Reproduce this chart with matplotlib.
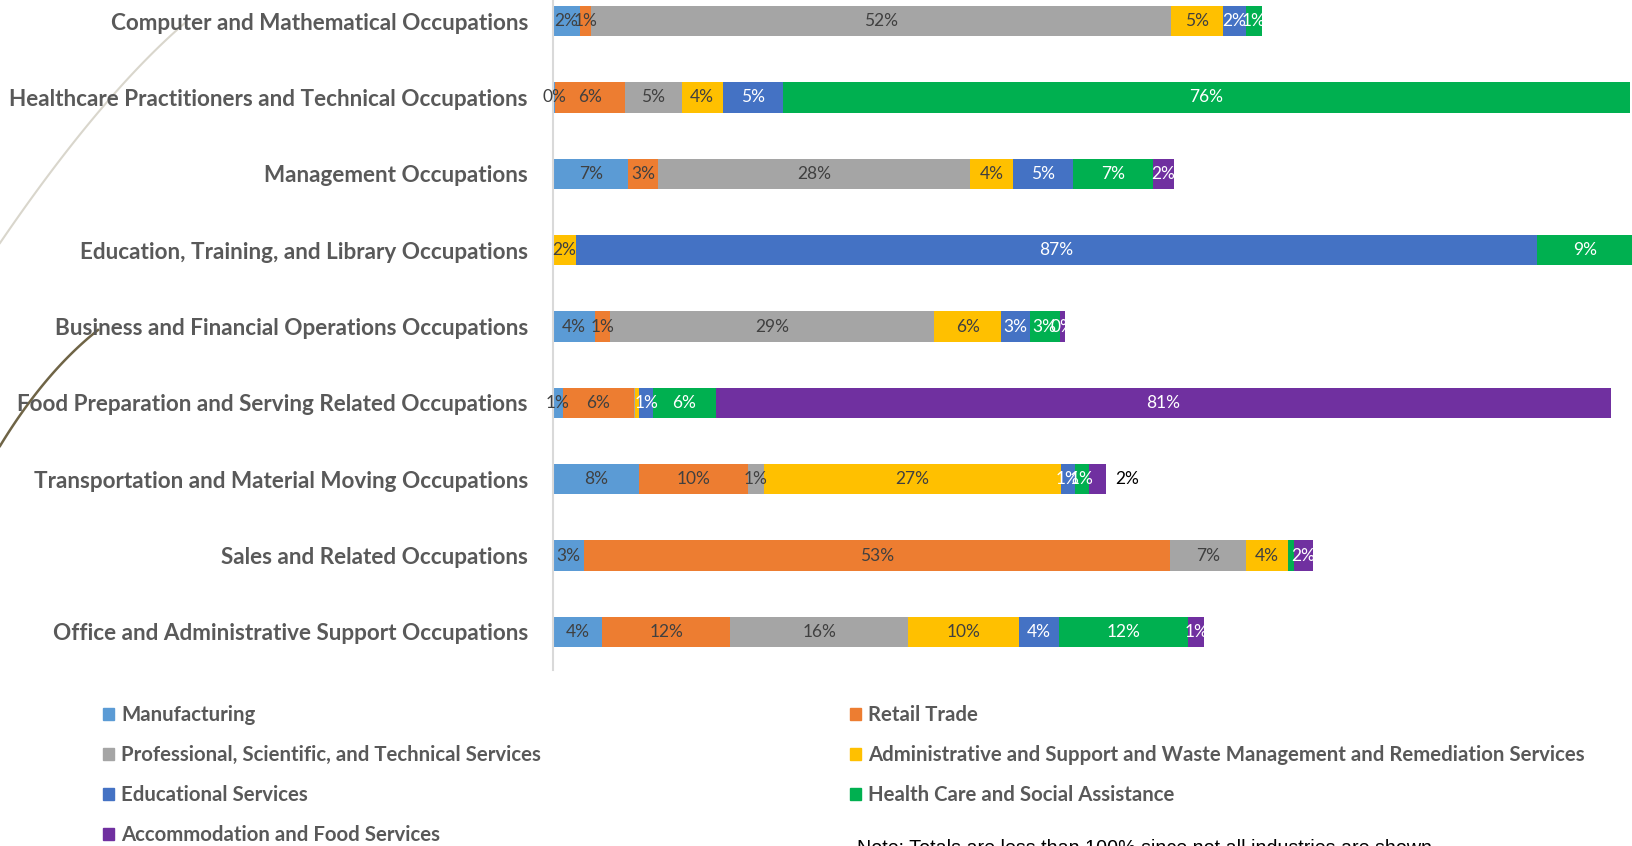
import numpy as np
import matplotlib
matplotlib.use('Agg')
import matplotlib.pyplot as plt
from matplotlib.patches import Patch
from matplotlib.lines import Line2D

# occupations, top to bottom
occupations = ['Computer and Mathematical Occupations',
               'Healthcare Practitioners and Technical Occupations',
               'Management Occupations',
               'Education, Training, and Library Occupations',
               'Business and Financial Operations Occupations',
               'Food Preparation and Serving Related Occupations',
               'Transportation and Material Moving Occupations',
               'Sales and Related Occupations',
               'Office and Administrative Support Occupations']

industries = ['Manufacturing', 'Retail Trade',
              'Professional, Scientific, and Technical Services',
              'Administrative and Support and Waste Management and Remediation Services',
              'Educational Services', 'Health Care and Social Assistance',
              'Accommodation and Food Services']

# share of each occupation employed in each industry (%)
manufacturing = [2.4, 0.2, 6.8, 0.0, 3.8, 0.9, 7.8, 2.8, 4.4]
retail = [1.0, 6.3, 2.7, 0.0, 1.3, 6.4, 9.8, 52.8, 11.6]
professional = [52.3, 5.1, 28.1, 0.0, 29.3, 0.1, 1.4, 6.9, 16.0]
admin_support = [4.7, 3.7, 3.9, 2.1, 6.0, 0.4, 26.8, 3.8, 10.0]
educational = [2.1, 5.4, 5.4, 86.6, 2.6, 1.2, 1.3, 0.0, 3.6]
health_care = [1.4, 76.4, 7.2, 9.0, 2.7, 5.7, 1.2, 0.5, 11.7]
accommodation = [0.0, 0.0, 1.9, 0.0, 0.5, 80.7, 1.6, 1.7, 1.4]

# labels Excel did not draw / drew outside the bar (row, series)
hidden_labels = [(5, 2), (5, 3), (7, 5)]
outside_labels = [(6, 6)]

colors = ['#5B9BD5', '#ED7D31', '#A5A5A5', '#FFC000', '#4472C4', '#00B050', '#7030A0']
label_colors = ['#404040', '#404040', '#404040', '#404040', 'white', 'white', 'white']

series = [manufacturing, retail, professional, admin_support, educational, health_care, accommodation]

W, H = 1633, 846
fig = plt.figure(figsize=(W / 100, H / 100), dpi=100)
ax = fig.add_axes([553 / W, (H - 670) / H, 1 - 553 / W, 687 / H])

xmax = 97.4
lab_size = 12.5
y = np.arange(len(occupations))
left = np.zeros(len(occupations))
for j, vals in enumerate(series):
	vals = np.array(vals)
	ax.barh(y, vals, left=left, height=0.4, color=colors[j], label=industries[j])
	for i, v in enumerate(vals):
		if v <= 0 or (i, j) in hidden_labels:
			continue
		txt = '%d%%' % round(v)
		if (i, j) in outside_labels:
			ax.text(left[i] + v + 0.8, i, txt, ha='left', va='center',
				fontsize=lab_size, color='black', family='Lato')
			continue
		xc = (left[i] + min(left[i] + v, xmax)) / 2
		c = label_colors[j] if v > 0.3 else '#404040'
		ax.text(xc, i, txt, ha='center', va='center', fontsize=lab_size, color=c, family='Lato')
	left += vals

ax.set_xlim(0, xmax)
ax.set_ylim(8.5, -0.5)
ax.set_xticks([])
ax.set_yticks(y)
ax.set_yticklabels(occupations, fontsize=16.2, fontweight='bold', color='#595959', family='Lato')
ax.tick_params(axis='y', length=0, pad=18)
for s in ['top', 'right', 'bottom']:
	ax.spines[s].set_visible(False)
ax.spines['left'].set_color('#D9D9D9')
ax.spines['left'].set_linewidth(1.5)

# legend: two columns placed like the Excel one
handles = [Patch(color=c) for c in colors]
col1 = [0, 2, 4, 6]
col2 = [1, 3, 5]
for cols, xpos in [(col1, 103), (col2, 850)]:
	fig.legend([handles[k] for k in cols], [industries[k] for k in cols],
		loc='upper left', bbox_to_anchor=(xpos / W, 1 - 705 / H), frameon=False,
		handlelength=0.55, handleheight=0.55, handletextpad=0.35, labelspacing=0.985,
		prop={'family': 'Lato', 'weight': 'bold', 'size': 14.7}, labelcolor='#595959',
		borderaxespad=0, borderpad=0)

fig.text(857 / W, 1 - 839 / H, 'Note: Totals are less than 100% since not all industries are shown.',
	ha='left', va='top', fontsize=14.1, family='Liberation Sans', color='black')

# decorative arcs from the slide template
def arc(p0, p1, p2, n=50):
	t = np.linspace(0, 1, n)[:, None]
	pts = (1 - t) ** 2 * np.array(p0) + 2 * t * (1 - t) * np.array(p1) + t ** 2 * np.array(p2)
	return pts[:, 0] / W, 1 - pts[:, 1] / H

xs, ys = arc((186, 22), (101, 95), (0, 243))
fig.add_artist(Line2D(xs, ys, color='#D9D6CC', lw=1.5, transform=fig.transFigure, zorder=0))
xs, ys = arc((98, 330), (45, 372), (0, 446))
fig.add_artist(Line2D(xs, ys, color='#6F6446', lw=1.8, transform=fig.transFigure, zorder=0))

plt.savefig('out.png', dpi=100)
